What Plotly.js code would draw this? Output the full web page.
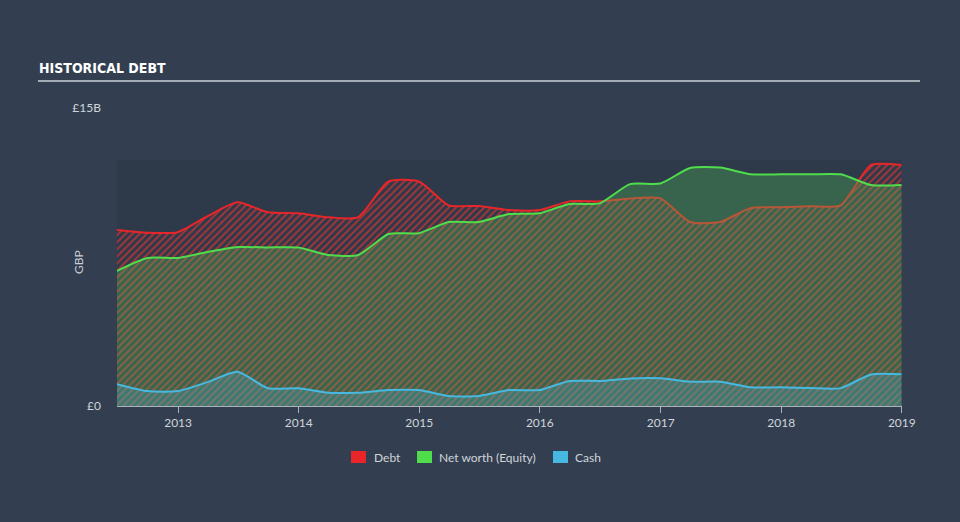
<!DOCTYPE html>
<html>
<head>
<meta charset="utf-8">
<script src="https://cdn.plot.ly/plotly-3.0.1.min.js"></script>
<style>
html,body{margin:0;padding:0;background:#333f50;}
#chart{width:960px;height:522px;}
</style>
</head>
<body>
<div id="chart"></div>
<script>
// ---- data (GBP billions) ----
var dates = ['2012-06-30','2012-09-30','2012-12-31','2013-03-31','2013-06-30','2013-09-30','2013-12-31',
             '2014-03-31','2014-06-30','2014-09-30','2014-12-31','2015-03-31','2015-06-30','2015-09-30',
             '2015-12-31','2016-03-31','2016-06-30','2016-09-30','2016-12-31','2017-03-31','2017-06-30',
             '2017-09-30','2017-12-31','2018-03-31','2018-06-30','2018-09-30','2018-12-31'];
var debt   = [8.86, 8.72, 8.75, 9.55, 10.25, 9.75, 9.7, 9.5, 9.5, 11.3, 11.3, 10.1, 10.07, 9.86,
              9.86, 10.3, 10.3, 10.45, 10.45, 9.26, 9.26, 9.96, 10.0, 10.05, 10.1, 12.13, 12.13];
var equity = [6.8, 7.45, 7.45, 7.75, 8.0, 7.98, 7.98, 7.6, 7.6, 8.66, 8.7, 9.26, 9.26, 9.66,
              9.7, 10.17, 10.2, 11.17, 11.2, 11.98, 12.0, 11.66, 11.66, 11.66, 11.66, 11.12, 11.12];
var cash   = [1.1, 0.75, 0.75, 1.2, 1.72, 0.89, 0.89, 0.67, 0.67, 0.8, 0.8, 0.5, 0.5, 0.8,
              0.8, 1.26, 1.26, 1.39, 1.4, 1.22, 1.22, 0.94, 0.94, 0.9, 0.9, 1.59, 1.6];
var yTickVals = [0, 15];
var yTickText = ['£0', '£15B'];
var seriesNames = ['Debt', 'Net worth (Equity)', 'Cash'];

// ---- style ----
var RED = '#e8262a', GREEN = '#4fdd4c', BLUE = '#47b8e0';
var FONT = 'Lato, "Open Sans", sans-serif';
var L = 117, R = 58, T = 108, B = 116, W = 960, H = 522;
var pw = W - L - R, ph = H - T - B;
function px(x){ return (x - L) / pw; }
function py(y){ return (H - B - y) / ph; }

var dataMax = Math.max.apply(null, debt.concat(equity));

var traces = [
  {x: dates, y: debt, type: 'scatter', mode: 'lines', name: seriesNames[0],
   line: {color: RED, width: 2, shape: 'spline', smoothing: 0.6},
   fill: 'tozeroy', fillcolor: 'rgba(0,0,0,0)',
   fillpattern: {shape: '/', fgcolor: 'rgba(225,50,50,0.7)', bgcolor: 'rgba(0,0,0,0)', size: 5, solidity: 0.35},
   hoverinfo: 'skip'},
  {x: dates, y: equity, type: 'scatter', mode: 'lines', name: seriesNames[1],
   line: {color: GREEN, width: 2, shape: 'spline', smoothing: 0.6},
   fill: 'tozeroy', fillcolor: 'rgba(80,200,90,0.30)', hoverinfo: 'skip'},
  {x: dates, y: cash, type: 'scatter', mode: 'lines', name: seriesNames[2],
   line: {color: BLUE, width: 2, shape: 'spline', smoothing: 0.6},
   fill: 'tozeroy', fillcolor: 'rgba(71,184,224,0.25)', hoverinfo: 'skip'}
];

var legendItems = [
  {c: RED, sx: 351, tx: 372, t: seriesNames[0]},
  {c: GREEN, sx: 417, tx: 437, t: seriesNames[1]},
  {c: BLUE, sx: 553, tx: 573, t: seriesNames[2]}
];

var shapes = [
  {type: 'rect', xref: 'x', yref: 'y', x0: dates[0], x1: dates[dates.length-1], y0: 0, y1: dataMax * 1.02,
   fillcolor: '#2e3a4a', line: {width: 0}, layer: 'below'},
  {type: 'line', xref: 'paper', yref: 'paper', x0: px(38), x1: px(920), y0: py(81), y1: py(81),
   line: {color: '#a3abb4', width: 2}}
];
var annotations = [
  {xref: 'paper', yref: 'paper', x: px(37), y: py(68), xanchor: 'left', yanchor: 'middle', showarrow: false,
   text: '<b>HISTORICAL DEBT</b>',
   font: {family: '"DejaVu Sans Condensed", "Liberation Sans Narrow", sans-serif', size: 14, color: '#ffffff'}},
  {xref: 'paper', yref: 'paper', x: px(78), y: py(262), xanchor: 'center', yanchor: 'middle', showarrow: false,
   text: 'GBP', textangle: -90, font: {family: FONT, size: 12, color: '#c9ced4'}}
];
legendItems.forEach(function(it){
  shapes.push({type: 'rect', xref: 'paper', yref: 'paper', x0: px(it.sx), x1: px(it.sx + 15),
               y0: py(463), y1: py(451), fillcolor: it.c, line: {width: 0}});
  annotations.push({xref: 'paper', yref: 'paper', x: px(it.tx), y: py(457), xanchor: 'left', yanchor: 'middle',
                    showarrow: false, text: it.t, font: {family: FONT, size: 12, color: '#d0d5da'}});
});

var layout = {
  width: W, height: H,
  margin: {l: L, r: R, t: T, b: B, pad: 0},
  paper_bgcolor: '#333f50', plot_bgcolor: 'rgba(0,0,0,0)',
  showlegend: false,
  xaxis: {type: 'date', range: ['2012-06-30', '2019-01-01 12:00'], showgrid: false, zeroline: false,
          showline: true, linecolor: '#aab2bb', linewidth: 1, ticks: 'outside', ticklen: 6, tickcolor: '#aab2bb',
          dtick: 'M12', tick0: '2013-01-01', tickformat: '%Y',
          tickfont: {family: FONT, size: 12, color: '#d0d5da'}, fixedrange: true},
  yaxis: {range: [0, 15], showgrid: false, zeroline: false, showline: false,
          tickvals: yTickVals, ticktext: yTickText, ticks: '', ticklabelstandoff: 15,
          tickfont: {family: FONT, size: 12, color: '#d0d5da'}, fixedrange: true},
  shapes: shapes,
  annotations: annotations
};

Plotly.newPlot('chart', traces, layout, {displayModeBar: false, staticPlot: true});
</script>
</body>
</html>
